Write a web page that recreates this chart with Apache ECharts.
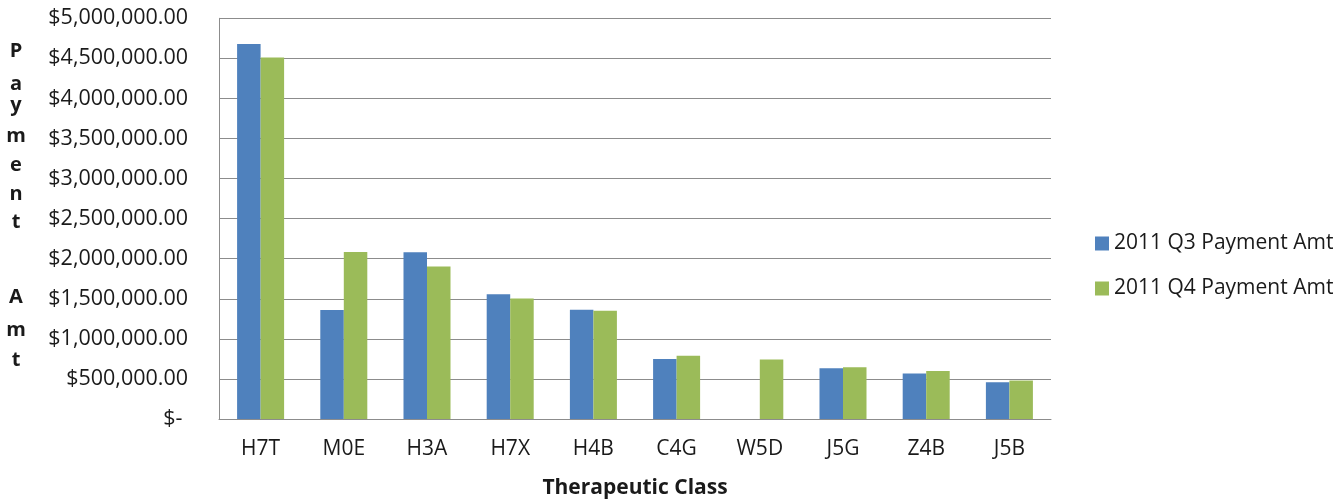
<!DOCTYPE html>
<html>
<head>
<meta charset="utf-8">
<script src="https://cdn.jsdelivr.net/npm/echarts@6/dist/echarts.min.js"></script>
<style>
html,body{margin:0;padding:0;background:#fff;}
#chart{width:1338px;height:504px;}
</style>
</head>
<body>
<div id="chart"></div>
<script>
const categories = ['H7T','M0E','H3A','H7X','H4B','C4G','W5D','J5G','Z4B','J5B'];
const q3Values = [4680000,1360000,2080000,1558000,1364000,749000,null,632000,567000,459000];
const q4Values = [4512000,2083000,1902000,1505000,1351000,790000,744000,645000,600000,480000];
const seriesNames = ['2011 Q3 Payment Amt','2011 Q4 Payment Amt'];
const yMin = 0, yMax = 5000000, yStep = 500000;
const yAxisTitleLetters = ['P','a','y','m','e','n','t','A','m','t'];
const xAxisTitle = 'Therapeutic Class';

// baselines of the stacked (vertical) y-axis title letters, as laid out in the reference
const yTitleBaselines = [58, 90.5, 112, 143, 172, 200.5, 228.5, 304, 337, 367];

const FONT = 'Open Sans';
function fmtMoney(v){
  if (v === 0) return '$- ';
  return '$' + v.toLocaleString('en-US',{minimumFractionDigits:2,maximumFractionDigits:2});
}

const chart = echarts.init(document.getElementById('chart'), null, {renderer:'canvas'});
chart.setOption({
  backgroundColor:'#ffffff',
  animation:false,
  textStyle:{fontFamily:FONT},
  grid:{left:219, right:287, top:18.3, bottom:82.3, containLabel:false},
  legend:{
    orient:'vertical', left:1090, top:228,
    itemWidth:14, itemHeight:14, itemGap:24,
    icon:'rect',
    textStyle:{fontFamily:FONT, fontSize:21, color:'#1a1a1a', lineHeight:21},
    data:seriesNames
  },
  xAxis:{
    type:'category', data:categories,
    axisLine:{show:true, lineStyle:{color:'#8c8c8c', width:1}},
    axisTick:{show:false},
    axisLabel:{fontFamily:FONT, fontSize:21, color:'#1a1a1a', margin:20},
    name:xAxisTitle, nameLocation:'middle', nameGap:59,
    nameTextStyle:{fontFamily:FONT, fontSize:21, fontWeight:'bold', color:'#1a1a1a'}
  },
  yAxis:{
    type:'value', min:yMin, max:yMax, interval:yStep,
    axisLine:{show:true, lineStyle:{color:'#8c8c8c', width:1}},
    axisTick:{show:false},
    splitLine:{show:true, lineStyle:{color:'#8c8c8c', width:1}},
    axisLabel:{fontFamily:FONT, fontSize:21.5, color:'#1a1a1a', margin:31, formatter:fmtMoney}
  },
  graphic: yAxisTitleLetters.map((ch,i)=>({
    type:'text', x:16, y:yTitleBaselines[i] - 6.5,
    style:{
      text: ch, font:'bold 20px "Open Sans"', fill:'#1a1a1a',
      align:'center', verticalAlign:'middle'
    }
  })),
  series:[
    {name:seriesNames[0], type:'bar', data:q3Values, barGap:'0%', barCategoryGap:'43.5%',
     itemStyle:{color:'#4F81BD'}},
    {name:seriesNames[1], type:'bar', data:q4Values, barGap:'0%', barCategoryGap:'43.5%',
     itemStyle:{color:'#9BBB59'}}
  ]
});
</script>
</body>
</html>
